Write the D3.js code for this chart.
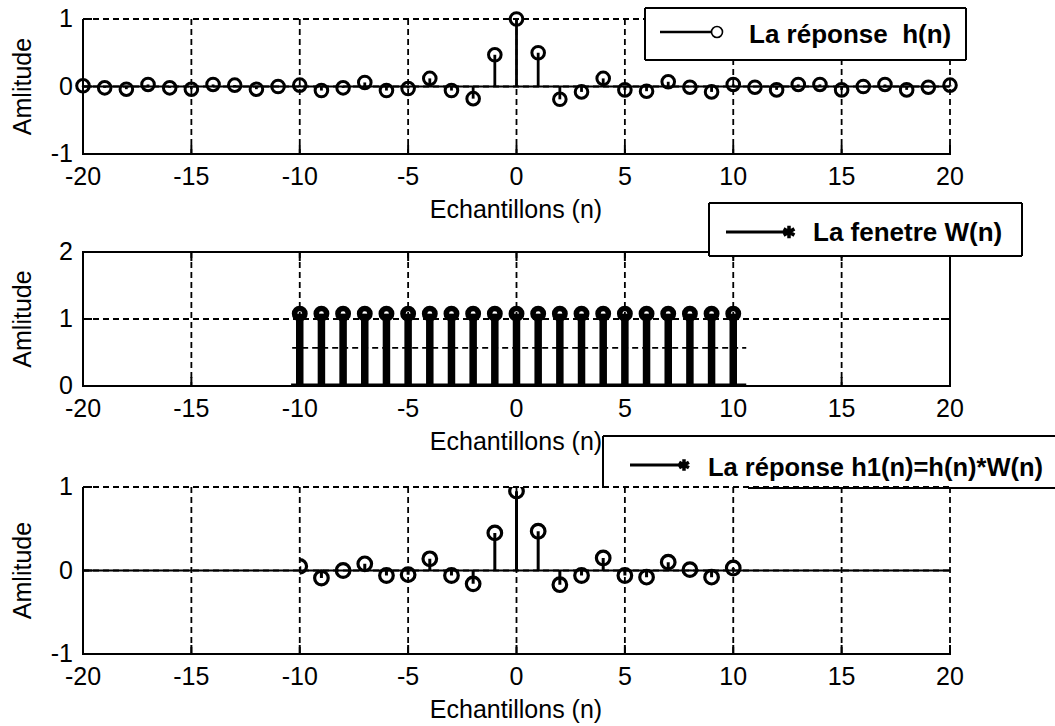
<!DOCTYPE html>
<html><head><meta charset="utf-8">
<script src="https://cdn.jsdelivr.net/npm/d3@7"></script>
<style>
html,body{margin:0;padding:0;background:#fff;}
svg{display:block;}
text{font-family:'Liberation Sans',Arial,sans-serif;fill:#000;}
</style></head><body>
<svg id="c" width="1055" height="726"></svg>
<script>
// ---------- data ----------
const nFull = [-20,-19,-18,-17,-16,-15,-14,-13,-12,-11,-10,-9,-8,-7,-6,-5,-4,-3,-2,-1,0,1,2,3,4,5,6,7,8,9,10,11,12,13,14,15,16,17,18,19,20];
const hValues = [0.01,-0.02,-0.04,0.03,-0.02,-0.04,0.03,0.02,-0.04,0.00,0.02,-0.06,-0.02,0.06,-0.06,-0.03,0.12,-0.06,-0.18,0.47,
                 1.00,
                 0.50,-0.19,-0.08,0.12,-0.05,-0.07,0.07,-0.01,-0.08,0.03,-0.01,-0.05,0.03,0.03,-0.05,0.00,0.03,-0.05,-0.01,0.02];
const nWindow = [-10,-9,-8,-7,-6,-5,-4,-3,-2,-1,0,1,2,3,4,5,6,7,8,9,10];
const wValues = [1.08,1.08,1.08,1.08,1.08,1.08,1.08,1.08,1.08,1.08,1.08,1.08,1.08,1.08,1.08,1.08,1.08,1.08,1.08,1.08,1.08];
const h1Values = [0.05,-0.09,0.00,0.08,-0.06,-0.05,0.14,-0.06,-0.16,0.45,
                  0.95,
                  0.47,-0.17,-0.06,0.15,-0.06,-0.08,0.10,0.01,-0.08,0.03];
const windowGuideLevel = 0.57;
const xTicks = [-20,-15,-10,-5,0,5,10,15,20];
const yTicksTop = [-1,0,1];
const yTicksMid = [0,1,2];
const yTicksBot = [-1,0,1];
const xLabelText = "Echantillons (n)";
const yLabelText = "Amlitude";
const legendTexts = ["La réponse  h(n)", "La fenetre W(n)", "La réponse h1(n)=h(n)*W(n)"];

// ---------- layout ----------
const svg = d3.select("#c");
const X0 = 83, X1 = 950;
const x = d3.scaleLinear().domain([-20,20]).range([X0,X1]);
const FS = 25;
const dash = "6,4";

const panels = [
  {top:19, bottom:154, domain:[-1,1], ticks:yTicksTop, box:false},
  {top:252, bottom:386, domain:[0,2], ticks:yTicksMid, box:true},
  {top:487, bottom:654, domain:[-1,1], ticks:yTicksBot, box:false}
];
panels.forEach(p => { p.y = d3.scaleLinear().domain(p.domain).range([p.bottom, p.top]); });

function drawFrame(p, g) {
  const y = p.y;
  xTicks.forEach(t => {
    if (t === -20) return;
    if (p.box && t === 20) return;
    g.append("line").attr("x1", x(t)).attr("x2", x(t)).attr("y1", p.top).attr("y2", p.bottom)
      .attr("stroke", "#000").attr("stroke-width", 1.8).attr("stroke-dasharray", dash);
  });
  p.ticks.forEach(t => {
    if (t === p.domain[0]) return;
    if (p.box && t === p.domain[1]) return;
    g.append("line").attr("x1", X0).attr("x2", X1).attr("y1", y(t)).attr("y2", y(t))
      .attr("stroke", "#000").attr("stroke-width", 1.8).attr("stroke-dasharray", dash);
  });
  const ax = g.append("g").attr("stroke", "#000").attr("stroke-width", 2).attr("fill", "none");
  ax.append("line").attr("x1", X0).attr("x2", X0).attr("y1", p.top).attr("y2", p.bottom + 1);
  ax.append("line").attr("x1", X0 - 1).attr("x2", X1 + 1).attr("y1", p.bottom).attr("y2", p.bottom);
  if (p.box) {
    ax.append("line").attr("x1", X0 - 1).attr("x2", X1 + 1).attr("y1", p.top).attr("y2", p.top);
    ax.append("line").attr("x1", X1).attr("x2", X1).attr("y1", p.top).attr("y2", p.bottom);
  }
  xTicks.forEach(t => {
    ax.append("line").attr("x1", x(t)).attr("x2", x(t)).attr("y1", p.bottom).attr("y2", p.bottom - 9);
    if (p.box) ax.append("line").attr("x1", x(t)).attr("x2", x(t)).attr("y1", p.top).attr("y2", p.top + 9);
  });
  p.ticks.forEach(t => {
    ax.append("line").attr("x1", X0).attr("x2", X0 + 9).attr("y1", y(t)).attr("y2", y(t));
    if (p.box) ax.append("line").attr("x1", X1).attr("x2", X1 - 9).attr("y1", y(t)).attr("y2", y(t));
  });
  xTicks.forEach(t => {
    g.append("text").attr("x", x(t)).attr("y", p.bottom + 31).attr("text-anchor", "middle")
      .attr("font-size", FS).text(t);
  });
  p.ticks.forEach(t => {
    g.append("text").attr("x", X0 - 10).attr("y", y(t) + 8).attr("text-anchor", "end")
      .attr("font-size", FS).text(t);
  });
  g.append("text").attr("x", 516).attr("y", p.bottom + 64).attr("text-anchor", "middle")
    .attr("font-size", FS).text(xLabelText);
  g.append("text").attr("transform", `translate(31,${(p.top + p.bottom) / 2}) rotate(-90)`)
    .attr("text-anchor", "middle").attr("font-size", FS).text(yLabelText);
}

function drawStems(p, g, ns, vals, opt) {
  const y = p.y;
  const data = ns.map((n, i) => ({n, v: vals[i]}));
  g.append("g").selectAll("line").data(data).join("line")
    .attr("x1", d => x(d.n)).attr("x2", d => x(d.n))
    .attr("y1", y(0)).attr("y2", d => y(d.v))
    .attr("stroke", "#000").attr("stroke-width", opt.stemW);
  g.append("g").selectAll("circle").data(data).join("circle")
    .attr("cx", d => x(d.n)).attr("cy", d => y(d.v)).attr("r", opt.r)
    .attr("fill", "none").attr("stroke", "#000").attr("stroke-width", opt.mW);
}

// ---------- panel 1 ----------
const g1 = svg.append("g");
drawFrame(panels[0], g1);
g1.append("line").attr("x1", X0).attr("x2", X1).attr("y1", panels[0].y(0)).attr("y2", panels[0].y(0))
  .attr("stroke", "#000").attr("stroke-width", 2);
drawStems(panels[0], g1, nFull, hValues, {stemW: 2.8, r: 6.3, mW: 3});

// ---------- panel 2 ----------
const g2 = svg.append("g");
drawFrame(panels[1], g2);
const p2 = panels[1];
g2.append("line").attr("x1", x(-10.35)).attr("x2", x(10.6)).attr("y1", p2.y(windowGuideLevel)).attr("y2", p2.y(windowGuideLevel))
  .attr("stroke", "#000").attr("stroke-width", 1.8).attr("stroke-dasharray", dash);
g2.append("line").attr("x1", x(-10.4)).attr("x2", x(10.6)).attr("y1", p2.y(0) - 1).attr("y2", p2.y(0) - 1)
  .attr("stroke", "#000").attr("stroke-width", 3);
drawStems(p2, g2, nWindow, wValues, {stemW: 7.5, r: 5.2, mW: 5.5});

// ---------- panel 3 ----------
const g3 = svg.append("g");
drawFrame(panels[2], g3);
const p3 = panels[2];
g3.append("line").attr("x1", X0).attr("x2", X1).attr("y1", p3.y(0)).attr("y2", p3.y(0))
  .attr("stroke", "#000").attr("stroke-width", 2);
svg.append("defs").append("clipPath").attr("id", "clip3").append("rect")
  .attr("x", x(-10)).attr("y", p3.top).attr("width", x(10.6) - x(-10)).attr("height", p3.bottom - p3.top);
const g3c = g3.append("g").attr("clip-path", "url(#clip3)");
drawStems(p3, g3c, nWindow, h1Values, {stemW: 3, r: 6.8, mW: 3.2});

// ---------- legends ----------
function legendBox(x0, y0, x1, y1, drawBottomFrom) {
  const lg = svg.append("g");
  lg.append("rect").attr("x", x0).attr("y", y0).attr("width", x1 - x0).attr("height", y1 - y0)
    .attr("fill", "#fff").attr("stroke", "none");
  const s = lg.append("g").attr("stroke", "#000").attr("stroke-width", 2);
  s.append("line").attr("x1", x0).attr("x2", x1).attr("y1", y0).attr("y2", y0);
  s.append("line").attr("x1", x0).attr("x2", x0).attr("y1", y0).attr("y2", y1);
  s.append("line").attr("x1", x1).attr("x2", x1).attr("y1", y0).attr("y2", y1);
  s.append("line").attr("x1", drawBottomFrom == null ? x0 : drawBottomFrom).attr("x2", x1).attr("y1", y1).attr("y2", y1);
  return lg;
}
{
  const lg = legendBox(645, 8, 966, 60);
  lg.append("line").attr("x1", 660).attr("x2", 712).attr("y1", 32).attr("y2", 32).attr("stroke", "#000").attr("stroke-width", 2.6);
  lg.append("circle").attr("cx", 717).attr("cy", 32).attr("r", 5.5).attr("fill", "#fff").attr("stroke", "#000").attr("stroke-width", 1.6);
  lg.append("text").attr("x", 749).attr("y", 43).attr("font-size", 26).attr("font-weight", "bold")
    .style("white-space", "pre").text(legendTexts[0]);
}
{
  const lg = legendBox(709, 203, 1022, 256);
  lg.append("line").attr("x1", 726).attr("x2", 786).attr("y1", 232).attr("y2", 232).attr("stroke", "#000").attr("stroke-width", 3);
  lg.append("path").attr("d", d3.symbol(d3.symbolAsterisk, 110)()).attr("transform", "translate(789,232)")
    .attr("fill", "none").attr("stroke", "#000").attr("stroke-width", 3.5);
  lg.append("text").attr("x", 813).attr("y", 241).attr("font-size", 26).attr("font-weight", "bold")
    .style("white-space", "pre").text(legendTexts[1]);
}
{
  const lg = legendBox(603, 436, 1075, 488, 748);
  lg.select("rect").attr("height", 485 - 436);
  lg.append("line").attr("x1", 630).attr("x2", 682).attr("y1", 465).attr("y2", 465).attr("stroke", "#000").attr("stroke-width", 3);
  lg.append("path").attr("d", d3.symbol(d3.symbolAsterisk, 90)()).attr("transform", "translate(684,465)")
    .attr("fill", "none").attr("stroke", "#000").attr("stroke-width", 3.5);
  lg.append("text").attr("x", 708).attr("y", 476).attr("font-size", 25.5).attr("font-weight", "bold")
    .style("white-space", "pre").text(legendTexts[2]);
}
</script>
</body></html>
